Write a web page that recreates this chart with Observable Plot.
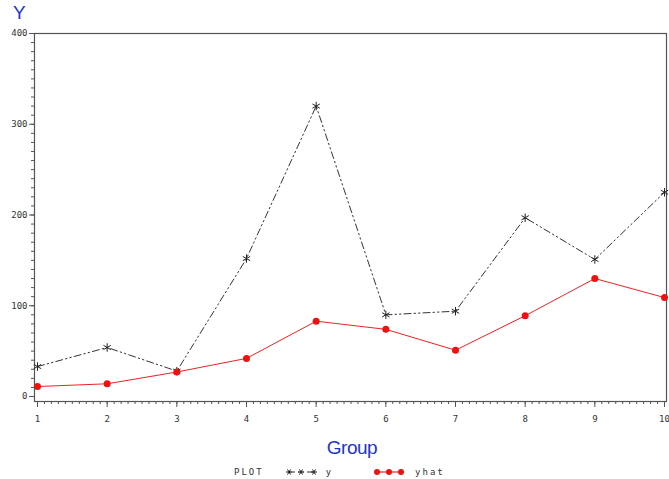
<!DOCTYPE html>
<html>
<head>
<meta charset="utf-8">
<script src="https://cdn.jsdelivr.net/npm/d3@7"></script>
<script src="https://cdn.jsdelivr.net/npm/@observablehq/plot@0.6"></script>
<style>
  body { margin: 0; background: #fff; width: 669px; height: 479px; overflow: hidden; position: relative; font-family: "Liberation Sans", Arial, sans-serif; }
  #chart { position: absolute; left: 0; top: 0; }
  .lbl { position: absolute; color: #2233cc; font-family: "Liberation Sans", Arial, sans-serif; }
  #ylab { left: 13px; top: 2px; font-size: 19px; }
  #xlab { left: 0; width: 704px; text-align: center; top: 437px; font-size: 19px; letter-spacing: -0.5px; }
  #legend { position: absolute; top: 467px; left: 234px; font-family: "DejaVu Sans Mono", monospace; font-size: 9px; color: #333; display: flex; align-items: center; letter-spacing: 2px; white-space: nowrap; }
  #legend svg { display: block; }
</style>
</head>
<body>
<div id="chart"></div>
<div class="lbl" id="ylab">Y</div>
<div class="lbl" id="xlab">Group</div>
<div id="legend"></div>
<script>
// Data
const groups = [1, 2, 3, 4, 5, 6, 7, 8, 9, 10];
const yValues = [33, 54, 28, 152, 320, 90, 94, 197, 151, 225];
const yhatValues = [11, 14, 27, 42, 83, 74, 51, 89, 130, 109];
const yTicks = [0, 100, 200, 300, 400];
const xTicks = [1, 2, 3, 4, 5, 6, 7, 8, 9, 10];

const dataY = groups.map((g, i) => ({group: g, value: yValues[i]}));
const dataYhat = groups.map((g, i) => ({group: g, value: yhatValues[i]}));

const yMinor = d3.range(0, 401, 10);
const xMinor = d3.range(10, 101, 1).map(d => d / 10);

const tickFont = "DejaVu Sans Mono";

const chart = Plot.plot({
  width: 669,
  height: 432,
  marginLeft: 34,
  marginRight: 3,
  marginTop: 33,
  marginBottom: 31,
  insetBottom: 5,
  insetLeft: 3,
  insetRight: 2,
  style: {fontFamily: tickFont, fontSize: "9px", color: "#333", background: "#fff"},
  x: {domain: [1, 10], label: null},
  y: {domain: [0, 400], label: null},
  marks: [
    Plot.frame({stroke: "#555", strokeWidth: 1.2}),
    Plot.axisY(yMinor, {tickSize: 3, text: null, stroke: "#555", label: null}),
    Plot.axisY(yTicks, {tickSize: 5, tickPadding: 2, stroke: "#555", fill: "#333", label: null}),
    Plot.axisX(xMinor, {tickSize: 3, text: null, stroke: "#555", label: null}),
    Plot.axisX(xTicks, {tickSize: 6, tickPadding: 8, stroke: "#555", fill: "#333", label: null}),
    Plot.line(dataY, {x: "group", y: "value", stroke: "#333", strokeWidth: 1, strokeDasharray: "7,3,1.5,3,1.5,3"}),
    Plot.dot(dataY, {x: "group", y: "value", symbol: "asterisk", r: 4, stroke: "#222", strokeWidth: 1}),
    Plot.line(dataYhat, {x: "group", y: "value", stroke: "#ee2222", strokeWidth: 1}),
    Plot.dot(dataYhat, {x: "group", y: "value", r: 3.5, fill: "#ee1111", stroke: "none"})
  ]
});
document.getElementById("chart").appendChild(chart);

// Legend (HTML with small inline symbol swatches)
const legend = document.getElementById("legend");
function swatchY() {
  return `<svg width="34" height="10"><line x1="2" y1="5" x2="30" y2="5" stroke="#333" stroke-width="1" stroke-dasharray="7,3,1.5,3,1.5,3"/>` +
    [3, 15, 28].map(x => `<g transform="translate(${x},5)" stroke="#222" stroke-width="1"><line x1="-3" y1="0" x2="3" y2="0"/><line x1="-1.5" y1="-2.6" x2="1.5" y2="2.6"/><line x1="-1.5" y1="2.6" x2="1.5" y2="-2.6"/></g>`).join("") + `</svg>`;
}
function swatchYhat() {
  return `<svg width="34" height="10"><line x1="3" y1="5" x2="30" y2="5" stroke="#ee2222" stroke-width="1.2"/>` +
    [4, 16, 28].map(x => `<circle cx="${x}" cy="5" r="3" fill="#ee1111"/>`).join("") + `</svg>`;
}
legend.innerHTML =
  `<span>PLOT</span><span style="width:22px"></span>` + swatchY() +
  `<span style="margin-left:6px">y</span><span style="width:40px"></span>` + swatchYhat() +
  `<span style="margin-left:8px">yhat</span>`;
</script>
</body>
</html>
